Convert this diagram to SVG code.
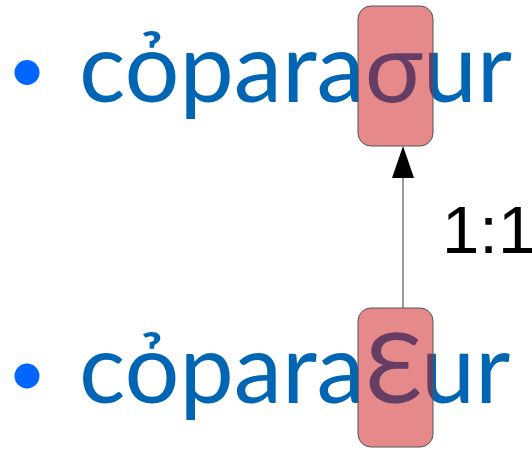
<svg xmlns="http://www.w3.org/2000/svg" width="532" height="451" viewBox="0 0 532 451">
<style>
.t{font-family:Lato,"Open Sans",sans-serif;font-size:97px;fill:#0066b3}
.b{fill:#0066ff}
.box{fill:#cc1418;fill-opacity:0.5;stroke:#555;stroke-width:1}
.lbl{font-family:"Liberation Sans",Arial,sans-serif;font-size:67px;fill:#000}
</style>
<g id="line1">
<circle class="b" cx="27" cy="72.5" r="12.5"/>
<text class="t" x="79" y="102">cỏparaσur</text>
</g>
<g id="line2">
<circle class="b" cx="27" cy="376" r="12.5"/>
<text class="t" x="79" y="403">cỏparaƐur</text>
</g>
<g id="connectors">
<line x1="403" y1="308" x2="403" y2="178" stroke="#666" stroke-width="1.3"/>
<path d="M403 146 L414 178 L392 178 Z" fill="#000"/>
<text class="lbl" x="442" y="253">1:1</text>
</g>
<g id="node-top"><rect class="box" x="358" y="6" width="75" height="140" rx="13"/></g>
<g id="node-bottom"><rect class="box" x="358" y="308" width="75" height="139" rx="13"/></g>
</svg>
